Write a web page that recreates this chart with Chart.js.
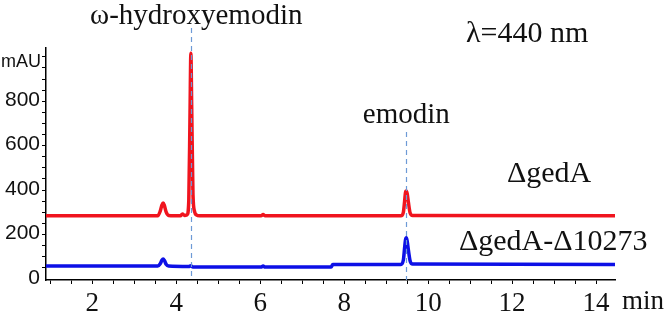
<!DOCTYPE html>
<html>
<head>
<meta charset="utf-8">
<script src="https://cdn.jsdelivr.net/npm/chart.js@4.4.1/dist/chart.umd.min.js"></script>
<style>
  html, body { margin: 0; padding: 0; background: #fff; }
  #wrap { width: 669px; height: 320px; }
</style>
</head>
<body>
<div id="wrap"><canvas id="chromChart"></canvas></div>
<script>
// retention time (min) and absorbance (mAU)
const gedATime = [0.9, 3.56, 3.62, 3.66, 3.69, 3.72, 3.76, 3.82, 4.10, 4.15, 4.20, 4.26, 4.30, 4.33, 4.35, 4.37, 4.40, 4.44, 4.48, 4.56, 6.02, 6.07, 6.12, 9.35, 9.41, 9.44, 9.46, 9.48, 9.50, 9.53, 9.57, 9.63, 14.45]
const gedASignal = [234, 234, 255, 282, 292, 280, 252, 236, 234, 242, 236, 238, 300, 700, 966, 720, 330, 252, 238, 234, 234, 240, 234, 234, 250, 300, 338, 346, 335, 295, 248, 236, 234]

const doubleTime = [0.9, 3.56, 3.62, 3.66, 3.69, 3.72, 3.76, 3.82, 4.30, 4.35, 4.40, 4.50, 6.02, 6.07, 6.12, 7.69, 7.73, 9.35, 9.41, 9.44, 9.46, 9.48, 9.50, 9.53, 9.57, 9.63, 14.45]
const doubleSignal = [8, 8, 18, 34, 40, 33, 16, 8, 6, 9, 3, 3, 3, 8, 3, 3, 15, 15, 35, 90, 125, 135, 122, 80, 32, 17, 15]

const traceNames = ['ΔgedA', 'ΔgedA-Δ10273']
const peakNames = ['ω-hydroxyemodin', 'emodin']
const peakTimes = [4.36, 9.48]
const xLabels = [2, 4, 6, 8, 10, 12, 14]
const yLabels = [0, 200, 400, 600, 800]

const serif = '"Liberation Serif", "Times New Roman", serif'
const sans = '"Liberation Sans", Arial, sans-serif'

const toPoints = (t, v) => t.map((x, i) => ({ x, y: v[i] }))

const annotate = {
  id: 'annotate',
  afterDatasetsDraw(chart) {
    const { ctx, chartArea } = chart
    const x = chart.scales.x
    ctx.save()
    // dashed peak markers
    const markerTop = [28, 132]
    ctx.strokeStyle = '#6d9ad6'
    ctx.lineWidth = 1.2
    ctx.setLineDash([5, 4])
    peakTimes.forEach((t, i) => {
      const px = Math.round(x.getPixelForValue(t)) + 0.5
      ctx.beginPath()
      ctx.moveTo(px, markerTop[i])
      ctx.lineTo(px, chartArea.bottom)
      ctx.stroke()
    })
    ctx.setLineDash([])

    ctx.fillStyle = '#111'
    ctx.textBaseline = 'middle'
    ctx.font = '29px ' + serif
    ctx.textAlign = 'center'
    ctx.fillText(peakNames[0], x.getPixelForValue(peakTimes[0]) + 5, 16)
    ctx.fillText(peakNames[1], x.getPixelForValue(peakTimes[1]), 115)
    ctx.textAlign = 'left'
    ctx.font = '30px ' + serif
    ctx.fillText('λ=440 nm', 466, 34)
    ctx.fillText(traceNames[0], 507, 174)
    ctx.fillText(traceNames[1], 459, 242)
    ctx.font = '27px ' + serif
    ctx.fillText('min', 622, 302)
    ctx.font = '18px ' + sans
    ctx.fillText('mAU', 1, 62)
    ctx.restore()
  },
}

new Chart(document.getElementById('chromChart'), {
  type: 'line',
  data: {
    datasets: [
      {
        label: traceNames[0],
        data: toPoints(gedATime, gedASignal),
        borderColor: '#f0141e',
        borderWidth: 3.5,
        pointRadius: 0,
        cubicInterpolationMode: 'monotone',
      },
      {
        label: traceNames[1],
        data: toPoints(doubleTime, doubleSignal),
        borderColor: '#0d10e6',
        borderWidth: 3.5,
        pointRadius: 0,
        cubicInterpolationMode: 'monotone',
      },
    ],
  },
  options: {
    responsive: true,
    maintainAspectRatio: false,
    animation: false,
    layout: { padding: { left: 0, right: 54, top: 48, bottom: 0 } },
    plugins: {
      legend: { display: false },
      tooltip: { enabled: false },
    },
    scales: {
      x: {
        type: 'linear',
        min: 0.9,
        max: 14.45,
        afterFit: scale => { scale.height = 40 },
        afterBuildTicks: scale => {
          const ticks = []
          for (let v = 1; v <= 14.25; v += 0.5) ticks.push({ value: v })
          scale.ticks = ticks
        },
        border: { color: '#000', width: 1.5 },
        grid: { drawOnChartArea: false, tickLength: 4, tickColor: '#000' },
        ticks: {
          autoSkip: false,
          maxRotation: 0,
          padding: 4,
          color: '#111',
          font: { family: serif, size: 27 },
          callback: v => (xLabels.includes(v) ? v : ''),
        },
      },
      y: {
        min: -55,
        max: 990,
        afterFit: scale => { scale.width = 46 },
        afterBuildTicks: scale => {
          const ticks = []
          for (let v = 0; v <= 950; v += 50) ticks.push({ value: v })
          scale.ticks = ticks
        },
        border: { color: '#000', width: 1.5 },
        grid: { drawOnChartArea: false, tickLength: 4, tickColor: '#000' },
        ticks: {
          autoSkip: false,
          padding: 2,
          labelOffset: 10,
          color: '#111',
          font: { family: sans, size: 21 },
          callback: v => (yLabels.includes(v) ? v : ''),
        },
      },
    },
  },
  plugins: [annotate],
})
</script>
</body>
</html>
